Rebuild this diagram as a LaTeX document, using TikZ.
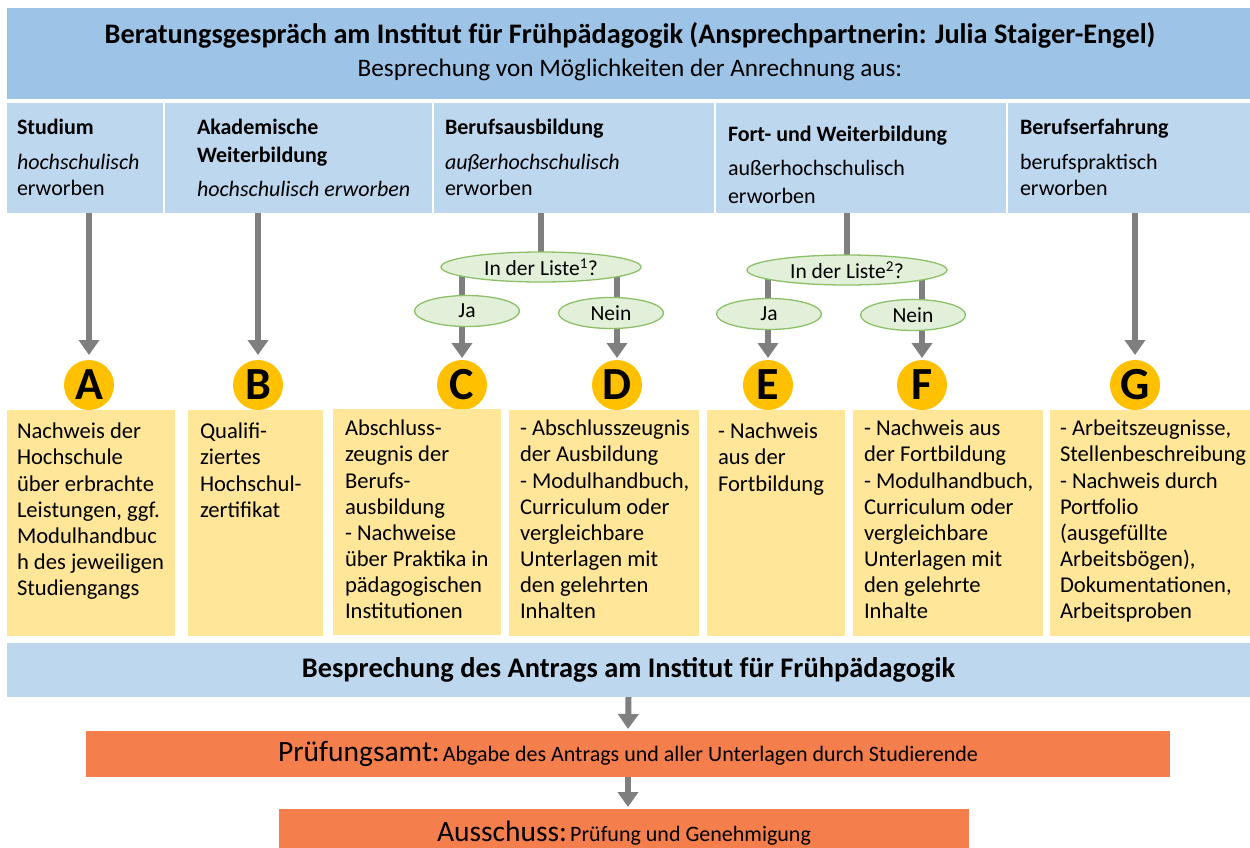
\documentclass[tikz,border=0pt]{standalone}
\usepackage{fontspec}
\setmainfont{Carlito}
\usetikzlibrary{arrows.meta,shapes.geometric,backgrounds}
\definecolor{hdrblue}{HTML}{9DC3E6}
\definecolor{colblue}{HTML}{BDD7EE}
\definecolor{boxyel}{HTML}{FFE699}
\definecolor{gold}{HTML}{FFC000}
\definecolor{orng}{RGB}{244,126,76}
\definecolor{elfill}{HTML}{E2F0D9}
\definecolor{eldraw}{HTML}{8CC068}
\definecolor{arrgray}{HTML}{7F7F7F}
\newcommand{\setfs}[2]{\fontsize{#1}{#2}\selectfont}
\tikzset{
  every node/.style={inner sep=0pt, outer sep=0pt},
  band/.style={fill=#1, anchor=north west},
  hcell/.style={fill=colblue, anchor=north west, minimum height=110pt},
  docbox/.style={fill=boxyel, anchor=north west, minimum height=226pt},
  orbox/.style={fill=orng},
  letter/.style={circle, fill=gold, minimum size=50pt, font=\bfseries\setfs{46}{46}},
  quest/.style={ellipse, fill=elfill, draw=eldraw, line width=1.3pt, minimum width=200pt, minimum height=30pt, font=\setfs{21.5}{23}},
  answer/.style={quest, minimum width=105pt, minimum height=31pt},
  hd/.style={anchor=base west, font=\bfseries\setfs{22}{24}},
  sub/.style={anchor=base west, font=\setfs{22}{24}},
  subit/.style={anchor=base west, font=\itshape\setfs{22}{24}},
  doctext/.style={anchor=north west, align=left, font=\setfs{22.6}{26.15}},
  arr/.style={draw=arrgray, line width=6pt, -{Triangle[width=20pt,length=15pt]}},
  link/.style={draw=arrgray, line width=6pt},
}
\begin{document}
\begin{tikzpicture}[x=1pt,y=-1pt]
\useasboundingbox (0,0) rectangle (1250,847);
% title bar
\node[band=hdrblue, minimum width=1243pt, minimum height=91pt] (top) at (7,8) {};
\node[font=\bfseries\setfs{28.3}{30}] (title) at (630,35) {Beratungsgespräch am Institut für Frühpädagogik (Ansprechpartnerin: Julia Staiger-Engel)};
\node[font=\setfs{25.2}{28}] (subt) at (630,70) {Besprechung von Möglichkeiten der Anrechnung aus:};
% header cells
\node[hcell, minimum width=156pt] (hA) at (7,103) {};
\node[hcell, minimum width=267pt] (hB) at (165,103) {};
\node[hcell, minimum width=280pt] (hC) at (434,103) {};
\node[hcell, minimum width=290pt] (hD) at (716,103) {};
\node[hcell, minimum width=242pt] (hE) at (1008,103) {};
\node[hd] (tA1) at (17,134) {Studium};
\node[subit] (tA2) at (17,169) {hochschulisch};
\node[sub] (tA3) at (17,195) {erworben};
\node[hd] (tB1) at (197,134) {Akademische};
\node[hd] (tB2) at (197,162) {Weiterbildung};
\node[subit] (tB3) at (197,196) {hochschulisch erworben};
\node[hd] (tC1) at (445,134) {Berufsausbildung};
\node[subit] (tC2) at (445,169) {außerhochschulisch};
\node[sub] (tC3) at (445,195) {erworben};
\node[hd] (tD1) at (728,141) {Fort- und Weiterbildung};
\node[sub] (tD2) at (728,175) {außerhochschulisch};
\node[sub] (tD3) at (728,203) {erworben};
\node[hd] (tE1) at (1020,134) {Berufserfahrung};
\node[sub] (tE2) at (1020,169) {berufspraktisch};
\node[sub] (tE3) at (1020,195) {erworben};
% questions
\node[quest] (q1) at (541,267) {In der Liste\textsuperscript{1}?};
\node[answer] (j1) at (467,311) {Ja};
\node[answer] (n1) at (611,313) {Nein};
\node[quest] (q2) at (847,270) {In der Liste\textsuperscript{2}?};
\node[answer] (j2) at (769,314) {Ja};
\node[answer] (n2) at (913,315) {Nein};
% letters
\node[letter] (cA) at (89,385) {A};
\node[letter] (cB) at (258,385) {B};
\node[letter] (cC) at (462,385) {C};
\node[letter] (cD) at (617,385) {D};
\node[letter] (cE) at (768,385) {E};
\node[letter] (cF) at (922,385) {F};
\node[letter] (cG) at (1135,385) {G};
% document boxes
\node[docbox, minimum width=168pt] (dA) at (7,410) {};
\node[docbox, minimum width=135pt] (dB) at (188,410) {};
\node[docbox, minimum width=168pt] (dC) at (333,409) {};
\node[docbox, minimum width=190pt] (dD) at (509,410) {};
\node[docbox, minimum width=138pt] (dE) at (707,410) {};
\node[docbox, minimum width=190pt] (dF) at (853,410) {};
\node[docbox, minimum width=200pt] (dG) at (1050,410) {};
\node[doctext] (xA) at (17,423) {Nachweis der\\Hochschule\\über erbrachte\\Leistungen, ggf.\\Modulhandbuc\\h des jeweiligen\\Studiengangs};
\node[doctext] (xB) at (200,423) {Qualifi-\\ziertes\\Hochschul-\\zertifikat};
\node[doctext] (xC) at (345,420) {Abschluss-\\zeugnis der\\Berufs-\\ausbildung\\- Nachweise\\über Praktika in\\pädagogischen\\Institutionen};
\node[doctext] (xD) at (520,420) {- Abschlusszeugnis\\der Ausbildung\\- Modulhandbuch,\\Curriculum oder\\vergleichbare\\Unterlagen mit\\den gelehrten\\Inhalten};
\node[doctext] (xE) at (718,423) {- Nachweis\\aus der\\Fortbildung};
\node[doctext] (xF) at (864,420) {- Nachweis aus\\der Fortbildung\\- Modulhandbuch,\\Curriculum oder\\vergleichbare\\Unterlagen mit\\den gelehrte\\Inhalte};
\node[doctext] (xG) at (1060,420) {- Arbeitszeugnisse,\\Stellenbeschreibung\\- Nachweis durch\\Portfolio\\(ausgefüllte\\Arbeitsbögen),\\Dokumentationen,\\Arbeitsproben};
% bottom
\node[band=colblue, minimum width=1243pt, minimum height=54pt] (bar) at (7,643) {};
\node[font=\bfseries\setfs{28.4}{30}] (bart) at (bar.center) {Besprechung des Antrags am Institut für Frühpädagogik};
\node[orbox, minimum width=1084pt, minimum height=46pt] (pa) at (628,754) {{\setfs{29.5}{32}Prüfungsamt:} {\setfs{22}{24}Abgabe des Antrags und aller Unterlagen durch Studierende}};
\node[orbox, minimum width=690pt, minimum height=48pt] (au) at (624,833) {{\setfs{29.5}{32}Ausschuss:} {\setfs{22}{24}Prüfung und Genehmigung}};
% connectors
\begin{scope}[on background layer]
\draw[arr, shorten >=5pt] (cA |- hA.south) -- (cA.north);
\draw[arr, shorten >=5pt] (cB |- hB.south) -- (cB.north);
\draw[arr, shorten >=5pt] (cG |- hE.south) -- (cG.north);
\draw[link] (q1 |- hC.south) -- (q1.center);
\draw[link] (cC |- q1.center) -- (cC |- j1.center);
\draw[link] (cD |- q1.center) -- (cD |- n1.center);
\draw[arr, shorten >=2pt] (cC |- j1.center) -- (cC.north);
\draw[arr, shorten >=2pt] (cD |- n1.center) -- (cD.north);
\draw[link] (q2 |- hD.south) -- (q2.center);
\draw[link] (cE |- q2.center) -- (cE |- j2.center);
\draw[link] (cF |- q2.center) -- (cF |- n2.center);
\draw[arr, shorten >=2pt] (cE |- j2.center) -- (cE.north);
\draw[arr, shorten >=2pt] (cF |- n2.center) -- (cF.north);
\draw[arr, shorten >=2pt] (bar.south) -- (pa.north);
\draw[arr, shorten >=2pt] (pa.south) -- (pa.south |- au.north);
\end{scope}
\end{tikzpicture}
\end{document}
